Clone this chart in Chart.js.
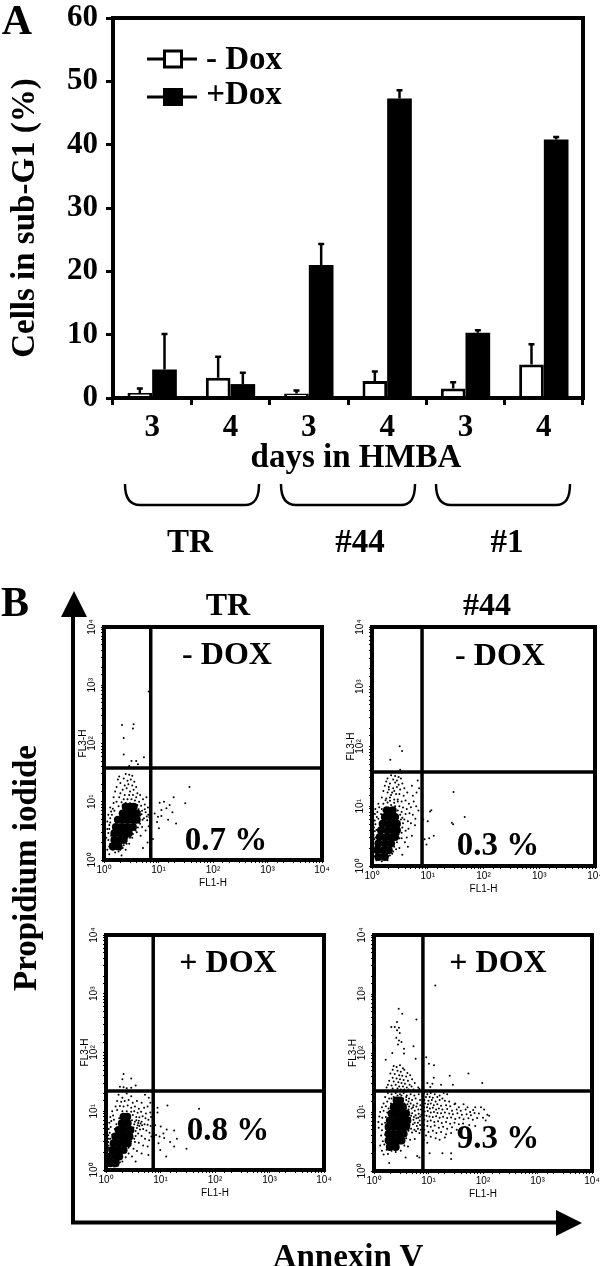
<!DOCTYPE html>
<html>
<head>
<meta charset="utf-8">
<title>Sub-G1 and Annexin V</title>
<script src="https://cdn.jsdelivr.net/npm/chart.js@4"></script>
<style>
html, body { margin: 0; padding: 0; background: #fff; }
#page { position: relative; width: 600px; height: 1266px; overflow: hidden; background: #fff; }
#page canvas { position: absolute; }
#page svg { position: absolute; left: 0; top: 0; }
.lbl { position: absolute; white-space: pre; color: #000; font-family: "Liberation Serif", serif; font-weight: bold; line-height: 1; transform: translate(-50%, -50%); }
</style>
</head>
<body>
<div id="page">
<svg width="600" height="1266" viewBox="0 0 600 1266" style="z-index:3">
	<!-- legend -->
	<path d="M147 59H197M147 97H197" stroke="#000" stroke-width="3" fill="none"/>
	<rect x="164.5" y="51" width="17" height="16" fill="#fff" stroke="#000" stroke-width="3"/>
	<rect x="163" y="88" width="20" height="18" fill="#000"/>
	<!-- braces -->
	<path d="M125 484C125 498 130 505 140 505H245C255 505 259 498 259 484" stroke="#000" stroke-width="2.5" fill="none"/>
	<path d="M281 484C281 498 286 505 296 505H401C411 505 415 498 415 484" stroke="#000" stroke-width="2.5" fill="none"/>
	<path d="M436 484C436 498 441 505 451 505H556C566 505 570 498 570 484" stroke="#000" stroke-width="2.5" fill="none"/>
	<!-- panel B arrows -->
	<path d="M73 615V1222.5H558" stroke="#000" stroke-width="4" fill="none"/>
	<path d="M74 591L87 617H61Z M582 1223L556 1236V1210Z" fill="#000"/>
</svg>
</div>
<script>
// panel A values
const days = ["3", "4", "3", "4", "3", "4"];
const minusDox = [0.8, 3.2, 0.7, 2.7, 1.5, 5.3];
const plusDox = [4.5, 2.2, 21, 47.3, 10.3, 40.8];
const minusDoxTop = [1.5, 6.5, 1.2, 4.2, 2.5, 8.5];
const plusDoxTop = [10.1, 4, 24.3, 48.6, 10.7, 41.2];

// panel B tick text
const decadeLabels = ["10\u2070", "10\u00b9", "10\u00b2", "10\u00b3", "10\u2074"];

// gates
const gatesTrMinus = [7.2, 37.8];
const gates44Minus = [7.9, 37.4];
const gatesTrPlus = [7.35, 22.1];
const gates44Plus = [7.9, 22.7];

// dense middle of each population (drawn with a bigger dot)
const coreTrMinus = [[1.45,1.7],[1.85,1.7],[1.55,2.2],[1.95,2.2],[2.3,2.2],[1.55,2.87],[1.95,2.87],[2.45,2.87],[2.85,2.87],[1.65,3.7],[2.1,3.7],[2.65,3.7],[3.4,3.7],[1.8,4.9],[2.3,4.9],[2.9,4.9],[3.6,4.9],[4,4.9],[2.2,6.3],[2.8,6.3],[3.4,6.3],[4,6.3],[2.5,8.2],[3,8.2],[3.5,8.2]];
const core44Minus = [[1.3,1.41],[1.7,1.41],[1.25,1.83],[1.6,1.83],[2,1.83],[1.3,2.37],[1.7,2.37],[2.2,2.37],[1.38,3.06],[1.8,3.06],[2.3,3.06],[2.6,3.06],[1.45,3.96],[1.9,3.96],[2.4,3.96],[2.8,3.96],[1.55,5.1],[2,5.1],[2.5,5.1],[2.8,5.1],[1.7,6.6],[2.1,6.6],[2.6,6.6],[1.85,8.6],[2.35,8.6]];
const coreTrPlus = [[1.2,1.3],[1.5,1.3],[1.2,1.69],[1.5,1.69],[1.75,1.69],[1.3,2.19],[1.65,2.19],[2.1,2.19],[1.38,2.85],[1.75,2.85],[2.2,2.85],[2.5,2.85],[1.48,3.7],[1.9,3.7],[2.3,3.7],[2.7,3.7],[1.7,4.8],[2.15,4.8],[2.8,4.8],[1.95,6.25],[2.5,6.25],[2.1,8.1],[2.45,8.1]];
const core44Plus = [[1.95,2.55],[2.5,2.55],[1.85,3.3],[2.3,3.3],[2.9,3.3],[3.2,3.3],[1.85,4.3],[2.3,4.3],[2.85,4.3],[3.5,4.3],[1.85,5.6],[2.3,5.6],[2.85,5.6],[3.5,5.6],[3.9,5.6],[1.95,7.2],[2.45,7.2],[3,7.2],[3.7,7.2],[4.1,7.2],[2.1,9.4],[2.6,9.4],[3.2,9.4],[3.9,9.4],[2.3,12.1],[2.8,12.1],[3.4,12.1],[2.6,15.7],[3,15.7]];

// single events
const dotsTrMinus = [[2.14,207],[3.4,181],[3.5,213],[2.3,124],[2.3,65],[3.2,50],[3.9,50],[4.2,44],[5.4,58],[6.6,780],[2.9,41],
	[37,18],[31,9.4],[19,12],[12.6,10],[10.5,9.6],[16,8.8],[14,7.7],[11.3,7.2],[18,6.6],[8.5,6.3],[9.8,5.5],[11.3,5.7],[15,4.9],[21,4.25],[9.4,4.5],[10.2,3.5],[7.9,2.3],
	[1.9,27],[2.5,30],[2.9,29],[3.3,28],[1.8,24],[2.3,25],[2.7,23],[3.1,24],[3.6,22],[2.0,21],[2.4,19],[2.8,20],[3.3,19],[3.9,18],[1.7,18],[2.2,16],[2.6,17],[3.0,15],[3.5,16],[4.1,14],[1.6,15],[2.0,14],[2.4,13],[2.9,13],[3.4,13],[3.9,12],[4.6,13],[1.5,12],[1.9,12],[2.3,11],[2.7,11],[3.2,11],[3.7,10.5],[4.4,10],[5.2,11],[6,12],
	[1.3,8],[1.5,9.5],[1.7,10],[2.1,9.8],[2.5,9.5],[3,9.4],[3.5,9],[4.1,8.8],[4.8,8.5],[5.6,9],[6.4,8],[1.2,6],[1.35,6.8],[1.45,7.6],[4.3,7.4],[5,7],[5.8,6.6],[6.5,6],[1.15,4.6],[1.3,5.2],[4.6,5.8],[5.4,5.2],[6.2,4.8],[6.8,5.4],
	[1.15,3.4],[1.25,4],[4.4,4.4],[5,3.7],[5.8,3.2],[6.6,3.8],[1.1,2.4],[1.2,2.9],[1.3,1.9],[3.6,3.6],[4.0,3],[4.7,2.6],[5.2,1.6],[6.3,2.0],[1.15,1.5],[1.25,1.25],[1.45,1.5],[1.6,1.35],[1.85,1.4],[2.1,1.2],[2.5,1.5],[2.9,1.9],[3.3,2.4],[1.4,1.8],[1.55,1.7],[1.75,1.8],[2.3,1.8],[2.7,2.4],
	[1.25,3.4],[1.3,4.4],[1.4,6],[1.55,7],[1.85,8.4],[2.2,8.8],[3.9,7.8],[4.5,6.8],[4.9,6.1],[5.1,4.9],[4.6,4.2],[4.2,3.6],[3.8,3.2],[3.4,2.8],[3,2.4],[2.6,1.9],[2.2,1.6],[1.2,2.2],[1.35,2.6],[1.25,1.7],[5.6,7.4],[6.1,5.6],[1.7,1.55],[2,1.5]];
const dots44Minus = [[3.14,101],[3.46,84],[2.13,60],[3.2,41],[29,17.4],[11.6,8.6],[11,8.2],[46,6.6],[27,5.3],[28.5,5],[10,5.6],[8.3,6],[12.8,3.2],[10.6,2.9],[8.8,2.8],[9.5,2.3],[8,14.7],
	[2.2,33],[2.6,32],[3,31],[1.9,29],[2.4,28],[2.8,27],[3.3,29],[1.8,26],[2.1,24],[2.6,25],[3,23],[3.5,24],[6.6,27],[1.7,22],[2,21],[2.4,20],[2.8,21],[3.2,19],[3.8,20],[5.2,22],[7,20],[1.6,18],[1.9,17],[2.3,17],[2.7,16],[3.1,16],[3.7,15],[4.3,17],[5.4,15],[6.3,17],
	[1.5,14],[1.8,13.5],[2.1,14],[2.5,13],[2.9,13],[3.4,12],[4,12.5],[4.6,11],[5.6,12],[1.3,11],[1.6,11],[1.9,11.5],[2.2,10.5],[2.6,10],[3.1,10],[3.6,9.5],[4.2,9],[5,9.6],[6.2,10],[6.8,8.5],[1.15,9],[1.35,9.6],[1.5,9],[1.8,9],[2.9,8.5],[3.4,8],[4,7.4],[4.7,7.6],[5.4,7.2],[6,6.2],[1.13,7.4],[1.25,8],[1.12,5.8],[1.22,6.6],[3.3,6],[3.8,6],[4.4,5.6],[5,5.2],[5.9,4.8],[1.08,4.4],[1.15,5],[3.1,4.8],[3.5,4.4],[4,3.9],[4.5,4.2],[5.2,3.2],[1.07,3.3],[1.12,3.8],[3,3.4],[3.4,2.9],[3.9,2.5],[4.4,2.1],[4.2,3],[1.05,2.4],[1.1,2.8],[1.07,1.9],[2.8,2.5],[3.1,2],[3.5,1.55],[1.1,1.45],[1.2,1.25],[1.35,1.3],[1.5,1.2],[1.7,1.35],[1.9,1.25],[2.1,1.5],[2.4,1.75],[2.7,1.9],[1.25,1.6],[1.45,1.55],
	[1.45,7.4],[1.6,8.4],[1.3,6.2],[2.55,8.2],[3.2,7.2],[3.5,6.4],[3.6,5.2],[3.4,3.6],[3.1,2.9],[2.8,3],[2.5,2.1],[2.3,1.6],[1.95,1.45],[1.55,1.3],[1.15,2.1],[1.15,3],[1.2,4],[2.9,12],[2.1,12.4],[2.5,11.4],[1.75,12.6],[2.2,15.4],[2.5,18],[2,19]];
const dotsTrPlus = [[2.1,43],[2,35],[2.9,36],[1.8,26],[2.1,25.6],[2.9,25],[3.5,27.5],[2.4,24.7],
	[13.4,12.5],[51,11],[8.8,11.5],[8.8,9.5],[10.1,5.5],[13,4.9],[17.8,4.7],[11.3,4.2],[20,3.4],[15,3],[11.7,3.5],[9.6,3.7],[9.2,2.85],[9.9,2.2],[17.8,2.5],[30,2.3],[12.7,1.7],[8.3,3.95],[8,5.8],
	[1.7,19],[2.0,17],[2.4,20],[2.9,18],[5.2,19],[6.1,17],[1.6,15],[1.9,14.5],[2.2,15],[2.6,15.5],[3.1,14],[3.7,15],[4.5,14],[6.5,14],[1.5,12],[1.8,12.3],[2.1,12],[2.5,12.5],[2.9,11.5],[3.4,12],[4,11],[5,11.5],[5.8,12],[1.3,10],[1.6,10.5],[2,10],[2.4,10],[2.9,9.8],[3.3,10],[3.8,9.4],[4.4,9.8],[5.4,9.2],[6.5,9.5],
	[1.2,8],[1.35,8.5],[3.1,8.6],[3.6,8],[4.1,7.9],[4.7,8.2],[5.3,7.6],[6,7.2],[6.7,8],[1.15,6.4],[1.25,6.8],[3,7],[3.4,6.6],[3.9,6.3],[4.5,6.6],[5.1,6],[5.8,5.9],[6.6,5.6],[1.12,5],[1.22,5.4],[3.2,5.3],[3.7,5.2],[4.2,4.9],[4.8,5],[5.5,4.7],[6.3,4.3],[1.1,3.9],[1.17,4.3],[3.1,4.4],[3.5,3.8],[3.9,4.2],[4.5,3.8],[5.2,3.4],[6.2,3.2],[6.8,3.7],[1.1,3],[1.13,3.4],[2.9,3.6],[3.4,3],[4,2.9],[4.8,2.6],[5.8,2.5],[1.08,2.2],[1.12,2.6],[2.8,2.6],[3.2,2.3],[3.7,2.1],[4.5,1.9],[6,1.8],[1.08,1.7],[1.14,1.45],[1.25,1.25],[1.4,1.15],[1.6,1.25],[1.8,1.35],[2,1.4],[2.3,1.65],[2.6,1.9],[3,1.7],[3.5,1.4],
	[1.4,7.2],[1.55,6],[1.75,7.6],[2.75,8],[3.3,6],[3.5,4.6],[3.3,3.4],[2.9,3.1],[2.6,2.4],[2.3,2],[1.95,1.65],[1.7,1.45],[1.05,1.3],[1.05,2],[1.1,2.4],[1.2,3.4],[1.3,4],[1.45,5],[4.1,5.6],[4.6,5.8],[4.3,6.2],[3.8,5.8],[4,6.9],[3.6,7]];
const dots44Plus = [[2.84,565],[3.3,463],[6,368],[2.64,335],[2.08,275],[2.4,275],[2.87,268],[2.64,243],[2.97,218],[2.57,181],[2.87,163],[3.2,153],[2.75,140],[3.55,118],[2.17,100],[5.3,130],[3.55,98],[13.3,1400],[9.1,85],[10.2,66],[12.6,62],[5.8,80],[1.64,77],
	[2.3,60],[2.6,58],[3,62],[3.4,55],[2.2,52],[2.7,50],[3.1,48],[3.6,52],[4.1,46],[2.0,45],[2.4,44],[2.9,42],[3.3,41],[3.9,40],[4.6,42],[2.2,38],[2.6,37],[3,36],[3.5,35],[4.2,34],[5,36],[1.9,34],[2.3,33],[2.8,32],[3.2,31],[3.7,30],[4.5,29],[5.6,31],[1.8,29],[2.1,28],[2.5,29],[2.9,27],[3.4,27],[4,26],[4.9,27],[6.5,26],[1.7,26],[2.2,25],[2.7,25],[3.1,24],[3.6,24],[4.3,24],[5.3,24],[6.8,24.5],
	[54,45],[97,31],[24.5,41],[28,29],[9.5,31],[12.5,38],[11.8,30],[17,29],[10.8,26.5],
	[26,1.6],[26,2],[18,2],[10.5,2],[6.2,1.8],[3.8,1.7],[1.9,1.37],[6.8,1.7],
	// left population edge
	[1.8,21],[2.1,20],[2.5,21],[3,20],[3.5,21],[4,19],[4.7,20],[5.5,19],[6.6,20],[1.6,18],[1.9,17],[2.3,18],[3.4,17],[3.9,16],[4.4,17],[5,16],[5.8,17],[7,16],[1.5,14],[1.75,15],[2.05,14],[3.6,14],[4.1,13.5],[4.7,14],[5.3,13],[6.2,14],[7.1,13],[1.4,12],[1.65,12.5],[1.85,11.5],[3.8,11.5],[4.3,11],[4.9,11.5],[5.6,10.5],[6.5,11],[7.3,11],[1.3,10],[1.5,10.5],[1.75,9.8],[3.9,9.8],[4.4,9.2],[5,9.5],[5.8,8.8],[6.6,9.3],[7.4,9],[1.25,8.4],[1.42,8],[1.65,8.2],[4,7.8],[4.6,7.9],[5.3,7.4],[6,7.8],[6.9,7.2],[1.2,6.8],[1.4,6.2],[1.6,6.6],[3.9,6.4],[4.5,6],[5.2,6.2],[6.1,5.8],[7,6],[1.22,5.4],[1.4,4.9],[1.65,5.2],[3.7,5.2],[4.3,4.8],[5,4.5],[5.9,4.7],[6.8,4.4],[1.35,4],[1.6,4.1],[1.45,3.2],[3.4,3.8],[3.9,3.6],[4.6,3.4],[5.6,3.5],[1.3,2.7],[1.55,2.8],[1.75,3],[3.1,3.1],[3.6,2.7],[4.2,2.6],[1.4,2.2],[1.7,2.3],[1.9,2.6],[2.4,2.4],[2.8,2.5],[3.1,2.2],[1.5,1.9],[1.8,1.95],[2.1,2.2],[2.5,2.1],
	[5.4,8.2],[4.8,8.6],[5.6,6.6],[6.4,6.6],[6.5,8],[4.8,5.2],[5.5,5],[6.4,5.2],[7.2,5],[7,8.4],[4.4,12.4],[5.2,12],[6,12.4],[3.9,18],[4.3,15],[3.2,19],[2.7,19],[2.1,17],
	// right cloud
	[8.2,21],[9.5,20],[11,21],[13,20],[16,19],[19,21],[22,20],[9,18],[10.5,18],[12,17.5],[14.5,18],[18,17],[8.4,16],[10,15.5],[11.5,16],[13.5,15],[16,16],[20,15.5],[24,15],[31,14],[8.6,14],[9.8,13.5],[11,14],[12.5,13],[14.5,13.5],[17,12.8],[21,13],[25,12.5],[30,13.5],[36,12],[44,13.5],[52,12],[8.3,12],[9.4,12],[10.6,11.5],[12,11.8],[13.8,11],[15.5,11.5],[18,11],[22,11.2],[27,10.5],[33,11],[39,10.5],[48,11],[58,10],[66,10.8],[72,12],[92,12],[8.5,10.2],[9.7,10.4],[11,9.8],[12.6,10],[14.6,9.6],[17,9.5],[20,9.8],[24,9.4],[28,9.2],[34,9.5],[41,9],[50,9.2],[60,8.8],[70,9.6],[84,9.4],[105,11],[120,9],[130,8.6],
	[8.2,8.8],[9.2,8.6],[10.4,8.4],[12,8.2],[13.8,8.5],[16,8],[18.5,8.3],[22,7.9],[26,8.1],[31,7.6],[37,8],[44,7.5],[54,7.8],[65,7.4],[78,7.9],[100,8],[112,7.2],[8.4,7.4],[9.6,7],[11,7.2],[12.8,6.8],[15,7],[17.5,6.5],[21,6.8],[25,6.3],[30,6.6],[36,6.2],[43,6.4],[56,6],[72,5.8],[8.3,6],[9.5,5.8],[11,5.6],[13,5.9],[15.5,5.4],[18.5,5.6],[22,5.2],[27,5.5],[33,5],[8.4,5],[10,4.6],[12,4.8],[14,4.4],[17,4.6],[21,4.2],[26,4.4],[9,4],[11,3.8],[13.5,3.6],[16,3.4],[20,3.7],[8.2,3.4],[9.5,3],[8,2.8]];

function mk(tag, parent) {
	var el = document.createElement(tag);
	parent.appendChild(el);
	return el;
}

var page = document.getElementById("page");

function label(text, cx, cy, size, rot) {
	var el = mk("div", page);
	el.className = "lbl";
	el.textContent = text;
	el.style.left = cx + "px";
	el.style.top = cy + "px";
	el.style.fontSize = size + "px";
	el.style.zIndex = 4;
	if (rot) el.style.transform = "translate(-50%, -50%) rotate(" + rot + "deg)";
}

// thick box round the plot area
const framePlugin = {
	id: "frame",
	afterDatasetsDraw(chart, args, opts) {
		var a = chart.chartArea, c = chart.ctx;
		c.save();
		c.strokeStyle = "#000";
		c.lineWidth = opts.width;
		c.strokeRect(a.left, a.top, a.right - a.left, a.bottom - a.top);
		c.restore();
	}
};

// upward error whiskers on the bars
const whiskerPlugin = {
	id: "whiskers",
	afterDatasetsDraw(chart) {
		var c = chart.ctx, y = chart.scales.y;
		c.save();
		c.strokeStyle = "#000";
		c.lineWidth = 2.5;
		chart.data.datasets.forEach(function(ds, i) {
			chart.getDatasetMeta(i).data.forEach(function(bar, j) {
				var top = y.getPixelForValue(ds.errTop[j]);
				c.beginPath();
				c.moveTo(bar.x, bar.y);
				c.lineTo(bar.x, top);
				c.moveTo(bar.x - 3, top);
				c.lineTo(bar.x + 3, top);
				c.stroke();
			});
		});
		c.restore();
	}
};

function noScalePad(s) {
	s.paddingTop = 0;
	s.paddingBottom = 0;
	s.paddingLeft = 0;
	s.paddingRight = 0;
}

function barChart() {
	var cv = mk("canvas", page);
	cv.width = 600; cv.height = 480;
	cv.style.left = "0px"; cv.style.top = "0px";
	new Chart(cv, {
		type: "bar",
		data: {
			labels: days,
			datasets: [
				{ label: "- Dox", data: minusDox, errTop: minusDoxTop, backgroundColor: "#fff", borderColor: "#000", borderWidth: 3 },
				{ label: "+Dox", data: plusDox, errTop: plusDoxTop, backgroundColor: "#000", borderWidth: 0 }
			]
		},
		options: {
			responsive: false,
			animation: false,
			layout: { padding: { top: 18, right: 17, left: 0, bottom: 0 } },
			categoryPercentage: 0.63,
			barPercentage: 1,
			plugins: { legend: { display: false }, tooltip: { enabled: false }, frame: { width: 4 } },
			scales: {
				x: {
					afterFit: function(s) { s.height = 82; noScalePad(s); },
					grid: { drawOnChartArea: false, tickLength: 7, lineWidth: 3, color: "#000" },
					border: { display: false },
					ticks: { color: "#000", padding: 4, font: { family: "Liberation Serif", weight: "bold", size: 31 } }
				},
				y: {
					min: 0, max: 60,
					afterFit: function(s) { s.width = 113; noScalePad(s); },
					grid: { drawOnChartArea: false, tickLength: 7, lineWidth: 3, color: "#000" },
					border: { display: false },
					ticks: { stepSize: 10, color: "#000", padding: 8, font: { family: "Liberation Serif", weight: "bold", size: 31 } }
				}
			}
		},
		plugins: [framePlugin, whiskerPlugin]
	});
}

function decadeTick(v) {
	var p = Math.log10(v);
	if (Math.abs(p - Math.round(p)) > 1e-6) return "";
	return decadeLabels[Math.round(p)];
}

function dotPlot(box, gates, core, dots) {
	var padL = 32, padB = 30, padT = 8, padR = 8;
	var cv = mk("canvas", page);
	cv.width = box.r - box.l + padL + padR;
	cv.height = box.b - box.t + padT + padB;
	cv.style.left = (box.l - padL) + "px";
	cv.style.top = (box.t - padT) + "px";
	var xy = function(p) { return { x: p[0], y: p[1] }; };
	var small = { family: "Liberation Sans", size: 10 };
	new Chart(cv, {
		type: "scatter",
		data: {
			datasets: [
				{ data: [{ x: gates[0], y: 1 }, { x: gates[0], y: 10000 }], showLine: true, borderColor: "#000", borderWidth: 3.5, pointRadius: 0 },
				{ data: [{ x: 1, y: gates[1] }, { x: 10000, y: gates[1] }], showLine: true, borderColor: "#000", borderWidth: 3.5, pointRadius: 0 },
				{ data: core.map(xy), backgroundColor: "#000", borderWidth: 0, pointRadius: 4 },
				{ data: dots.map(xy), backgroundColor: "#000", borderWidth: 0, pointRadius: 1 }
			]
		},
		options: {
			responsive: false,
			animation: false,
			layout: { padding: { top: padT, right: padR, left: 0, bottom: 0 } },
			plugins: { legend: { display: false }, tooltip: { enabled: false }, frame: { width: 4 } },
			scales: {
				x: {
					type: "logarithmic", min: 1, max: 10000,
					afterFit: function(s) { s.height = padB; noScalePad(s); },
					grid: { drawOnChartArea: false, tickLength: 3, color: "#000" },
					border: { display: false },
					title: { display: true, text: "FL1-H", color: "#000", font: small, padding: { top: 0, bottom: 1 } },
					ticks: { autoSkip: false, maxRotation: 0, color: "#000", padding: 1, font: small, callback: decadeTick }
				},
				y: {
					type: "logarithmic", min: 1, max: 10000,
					afterFit: function(s) { s.width = padL; noScalePad(s); },
					grid: { drawOnChartArea: false, tickLength: 3, color: "#000" },
					border: { display: false },
					title: { display: true, text: "FL3-H", color: "#000", font: small, padding: { top: 5, bottom: 0 } },
					ticks: { autoSkip: false, minRotation: 90, maxRotation: 90, crossAlign: "center", color: "#000", padding: 1, font: small, callback: decadeTick }
				}
			}
		},
		plugins: [framePlugin]
	});
}

barChart();
dotPlot({ l: 104, r: 322, t: 627, b: 860 }, gatesTrMinus, coreTrMinus, dotsTrMinus);
dotPlot({ l: 372, r: 595, t: 627, b: 866 }, gates44Minus, core44Minus, dots44Minus);
dotPlot({ l: 106, r: 324, t: 935, b: 1170 }, gatesTrPlus, coreTrPlus, dotsTrPlus);
dotPlot({ l: 374, r: 592, t: 935, b: 1171 }, gates44Plus, core44Plus, dots44Plus);

label("A", 17, 20, 42);
label("Cells in sub-G1 (%)", 23, 218, 33, -90);
label("- Dox", 244, 58, 33);
label("+Dox", 244, 93, 33);
label("days in HMBA", 356, 456, 33);
label("TR", 190, 541, 33);
label("#44", 360, 541, 33);
label("#1", 507, 541, 33);

label("B", 15, 602, 42);
label("TR", 228, 604, 32);
label("#44", 487, 604, 32);
label("Propidium iodide", 25, 868, 33, -90);
label("Annexin V", 348, 1256, 33);

label("- DOX", 227, 653, 32);
label("0.7 %", 226, 839, 33);
label("- DOX", 500, 654, 32);
label("0.3 %", 498, 844, 33);
label("+ DOX", 228, 961, 32);
label("0.8 %", 228, 1129, 33);
label("+ DOX", 498, 961, 32);
label("9.3 %", 498, 1137, 33);
</script>
</body>
</html>
